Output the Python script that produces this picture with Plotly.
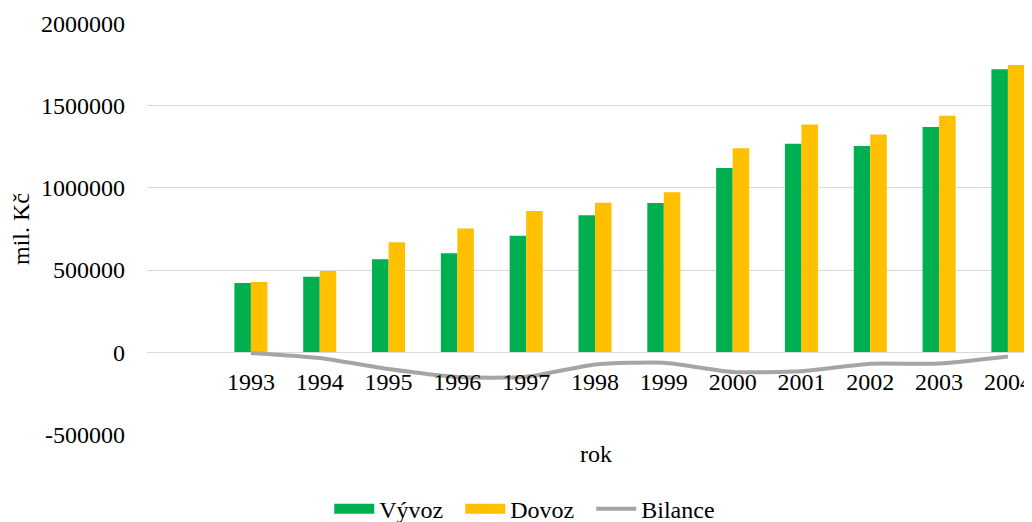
import plotly.graph_objects as go

years = ["1993", "1994", "1995", "1996", "1997", "1998", "1999", "2000", "2001", "2002", "2003", "2004"]
vyvoz = [421600, 458900, 566200, 601600, 709300, 834200, 908800, 1121100, 1269600, 1254900, 1370900, 1722700]
dovoz = [426900, 494700, 669700, 753500, 859700, 909200, 973200, 1241900, 1386300, 1325700, 1440700, 1749300]
bilance = [v - d for v, d in zip(vyvoz, dovoz)]

GREEN = "#00B050"
YELLOW = "#FFC000"
GRAY = "#A5A5A5"
FONT = "Liberation Serif"

fig = go.Figure()
fig.add_trace(go.Bar(x=years, y=vyvoz, name="Vývoz", marker=dict(color=GREEN, line=dict(width=0)), showlegend=False))
fig.add_trace(go.Bar(x=years, y=dovoz, name="Dovoz", marker=dict(color=YELLOW, line=dict(width=0)), showlegend=False))
fig.add_trace(go.Scatter(x=years, y=bilance, name="Bilance", mode="lines",
                         line=dict(color=GRAY, width=4, shape="spline", smoothing=0.6), showlegend=False))

# legend entries
fig.add_trace(go.Scatter(x=[None], y=[None], mode="lines", name="Vývoz", line=dict(color=GREEN, width=11)))
fig.add_trace(go.Scatter(x=[None], y=[None], mode="lines", name="Dovoz", line=dict(color=YELLOW, width=11)))
fig.add_trace(go.Scatter(x=[None], y=[None], mode="lines", name="Bilance", line=dict(color=GRAY, width=4)))

# the page body adds an 8px offset, so the figure is 8px smaller in each direction
fig.update_layout(
    width=1024, height=514,
    margin=dict(l=139, r=0, t=15, b=87, autoexpand=False),
    paper_bgcolor="white", plot_bgcolor="white",
    font=dict(family=FONT, size=24, color="#000000"),
    barmode="group", bargap=0.52, bargroupgap=0,
    xaxis=dict(type="category", range=[-1.51, 11.35], showgrid=False, zeroline=False,
               showline=False, ticks="", anchor="free", position=0.2, automargin=False,
               ticklabelstandoff=12, tickfont=dict(size=24)),
    yaxis=dict(range=[-505000, 2005000], tickvals=[-500000, 0, 500000, 1000000, 1500000, 2000000],
               ticktext=["-500000", "0", "500000", "1000000", "1500000", "2000000"],
               showgrid=True, gridcolor="#D9D9D9", gridwidth=1, zeroline=True, zerolinecolor="#D9D9D9",
               zerolinewidth=1, showline=False, ticks="", ticklabelstandoff=21, automargin=False,
               title=dict(text="mil. Kč", standoff=6, font=dict(size=24))),
    legend=dict(orientation="h", x=0.428, xanchor="center", y=-0.18, yanchor="middle",
                font=dict(size=24), itemwidth=40, entrywidth=76, bgcolor="rgba(0,0,0,0)"),
    annotations=[dict(text="rok", x=0.507, y=-0.046, xref="paper", yref="paper",
                      xanchor="center", yanchor="middle", showarrow=False, font=dict(size=24))],
)

fig.write_html("out.html")
